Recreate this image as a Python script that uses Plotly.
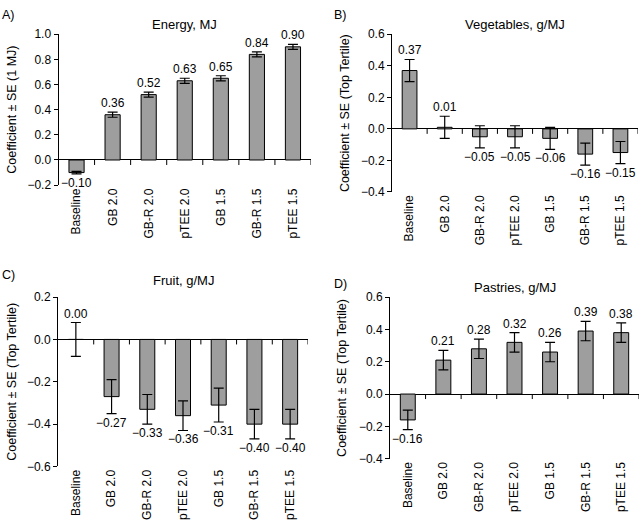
import plotly.graph_objects as go

categories = ["Baseline", "GB 2.0", "GB-R 2.0", "pTEE 2.0", "GB 1.5", "GB-R 1.5", "pTEE 1.5"]

energy = [-0.10, 0.36, 0.52, 0.63, 0.65, 0.84, 0.90]
energy_se = [0.01, 0.02, 0.02, 0.02, 0.02, 0.02, 0.02]
vegetables = [0.37, 0.01, -0.05, -0.05, -0.06, -0.16, -0.15]
vegetables_se = [0.07, 0.07, 0.07, 0.07, 0.07, 0.07, 0.07]
fruit = [0.00, -0.27, -0.33, -0.36, -0.31, -0.40, -0.40]
fruit_se = [0.08, 0.08, 0.07, 0.07, 0.08, 0.07, 0.07]
pastries = [-0.16, 0.21, 0.28, 0.32, 0.26, 0.39, 0.38]
pastries_se = [0.06, 0.06, 0.06, 0.06, 0.06, 0.06, 0.06]

W, H = 640, 528
FONT = "Liberation Sans, Arial, Helvetica, sans-serif"


def fx(p):
    return p / W


def fy(p):
    return 1 - p / H


panels = [
    dict(letter="A)", title="Energy, MJ", ylabel="Coefficient \u00b1 SE (1 MJ)",
         vals=energy, se=energy_se, yr=[-0.2, 1.0],
         xd=(58.5, 311), yd=(28, 183), title_y=18, letter_xy=(0, 8), ylab_x=12),
    dict(letter="B)", title="Vegetables, g/MJ", ylabel="Coefficient \u00b1 SE (Top Tertile)",
         vals=vegetables, se=vegetables_se, yr=[-0.4, 0.6],
         xd=(392, 638), yd=(28, 190), title_y=18, letter_xy=(332, 8), ylab_x=345),
    dict(letter="C)", title="Fruit, g/MJ", ylabel="Coefficient \u00b1 SE (Top Tertile)",
         vals=fruit, se=fruit_se, yr=[-0.6, 0.2],
         xd=(58, 308), yd=(298, 472), title_y=281, letter_xy=(0, 275), ylab_x=12),
    dict(letter="D)", title="Pastries, g/MJ", ylabel="Coefficient \u00b1 SE (Top Tertile)",
         vals=pastries, se=pastries_se, yr=[-0.4, 0.6],
         xd=(390, 639), yd=(298, 464), title_y=288, letter_xy=(332, 285), ylab_x=342),
]

fig = go.Figure()
annotations = []
shapes = []
layout = {}

idx = list(range(len(categories)))

for k, p in enumerate(panels):
    n = "" if k == 0 else str(k + 1)
    xa, ya = "x" + n, "y" + n
    fig.add_trace(go.Bar(
        x=categories, y=p["vals"], xaxis=xa, yaxis=ya, width=0.42,
        marker=dict(color="#9e9e9e", line=dict(color="black", width=1)),
        error_y=dict(type="data", array=p["se"], color="black", thickness=1.2, width=5),
        showlegend=False, hoverinfo="skip",
    ))
    # value labels above (positive) or below (negative) the error bars
    for c, v, s in zip(categories, p["vals"], p["se"]):
        pos = v >= 0
        annotations.append(dict(
            text=f"{v:.2f}".replace("-", "\u2212"), xref=xa, yref=ya, x=c,
            y=v + s if pos else v - s, xanchor="center",
            yanchor="bottom" if pos else "top", yshift=0, showarrow=False,
            font=dict(size=12, color="black", family=FONT)))

    layout["xaxis" + n] = dict(
        domain=[fx(p["xd"][0]), fx(p["xd"][1])], anchor=ya, range=[-0.5, len(categories) - 0.5],
        type="category", showline=False, ticks="", tickangle=-90, showgrid=False, zeroline=False,
        tickfont=dict(size=12, color="black", family=FONT), fixedrange=True,
    )
    layout["yaxis" + n] = dict(
        domain=[fy(p["yd"][1]), fy(p["yd"][0])], anchor=xa, range=p["yr"], dtick=0.2,
        tick0=0, tickformat=".1f", showline=True, linecolor="black", linewidth=1,
        ticks="outside", ticklen=4, tickcolor="black", showgrid=False,
        zeroline=True, zerolinecolor="black", zerolinewidth=1,
        tickfont=dict(size=12, color="black", family=FONT), fixedrange=True,
    )
    for i in idx:
        shapes.append(dict(type="line", xref=xa, yref=ya, x0=i + 0.5, x1=i + 0.5,
                           ysizemode="pixel", yanchor=0, y0=0, y1=-5,
                           line=dict(color="black", width=1)))
    annotations.append(dict(text=p["title"], xref="paper", yref="paper",
                            x=fx((p["xd"][0] + p["xd"][1]) / 2), y=fy(p["title_y"]),
                            xanchor="center", yanchor="middle", showarrow=False,
                            font=dict(size=13, color="black", family=FONT)))
    annotations.append(dict(text=p["letter"], xref="paper", yref="paper",
                            x=fx(p["letter_xy"][0]), y=fy(p["letter_xy"][1]),
                            xanchor="left", yanchor="middle", showarrow=False,
                            font=dict(size=12.5, color="black", family=FONT)))
    annotations.append(dict(text=p["ylabel"], xref="paper", yref="paper", textangle=-90,
                            x=fx(p["ylab_x"]), y=fy((p["yd"][0] + p["yd"][1]) / 2),
                            xanchor="center", yanchor="middle", showarrow=False,
                            font=dict(size=12.5, color="black", family=FONT)))

fig.update_layout(
    width=W, height=H, margin=dict(l=0, r=0, t=0, b=0),
    paper_bgcolor="white", plot_bgcolor="white",
    font=dict(family=FONT, color="black"),
    annotations=annotations, shapes=shapes, bargap=0.5,
    **layout,
)

fig.write_html("out.html", config={"displayModeBar": False, "staticPlot": True},
               post_script="document.body.style.margin='0';document.body.style.overflow='hidden';")
